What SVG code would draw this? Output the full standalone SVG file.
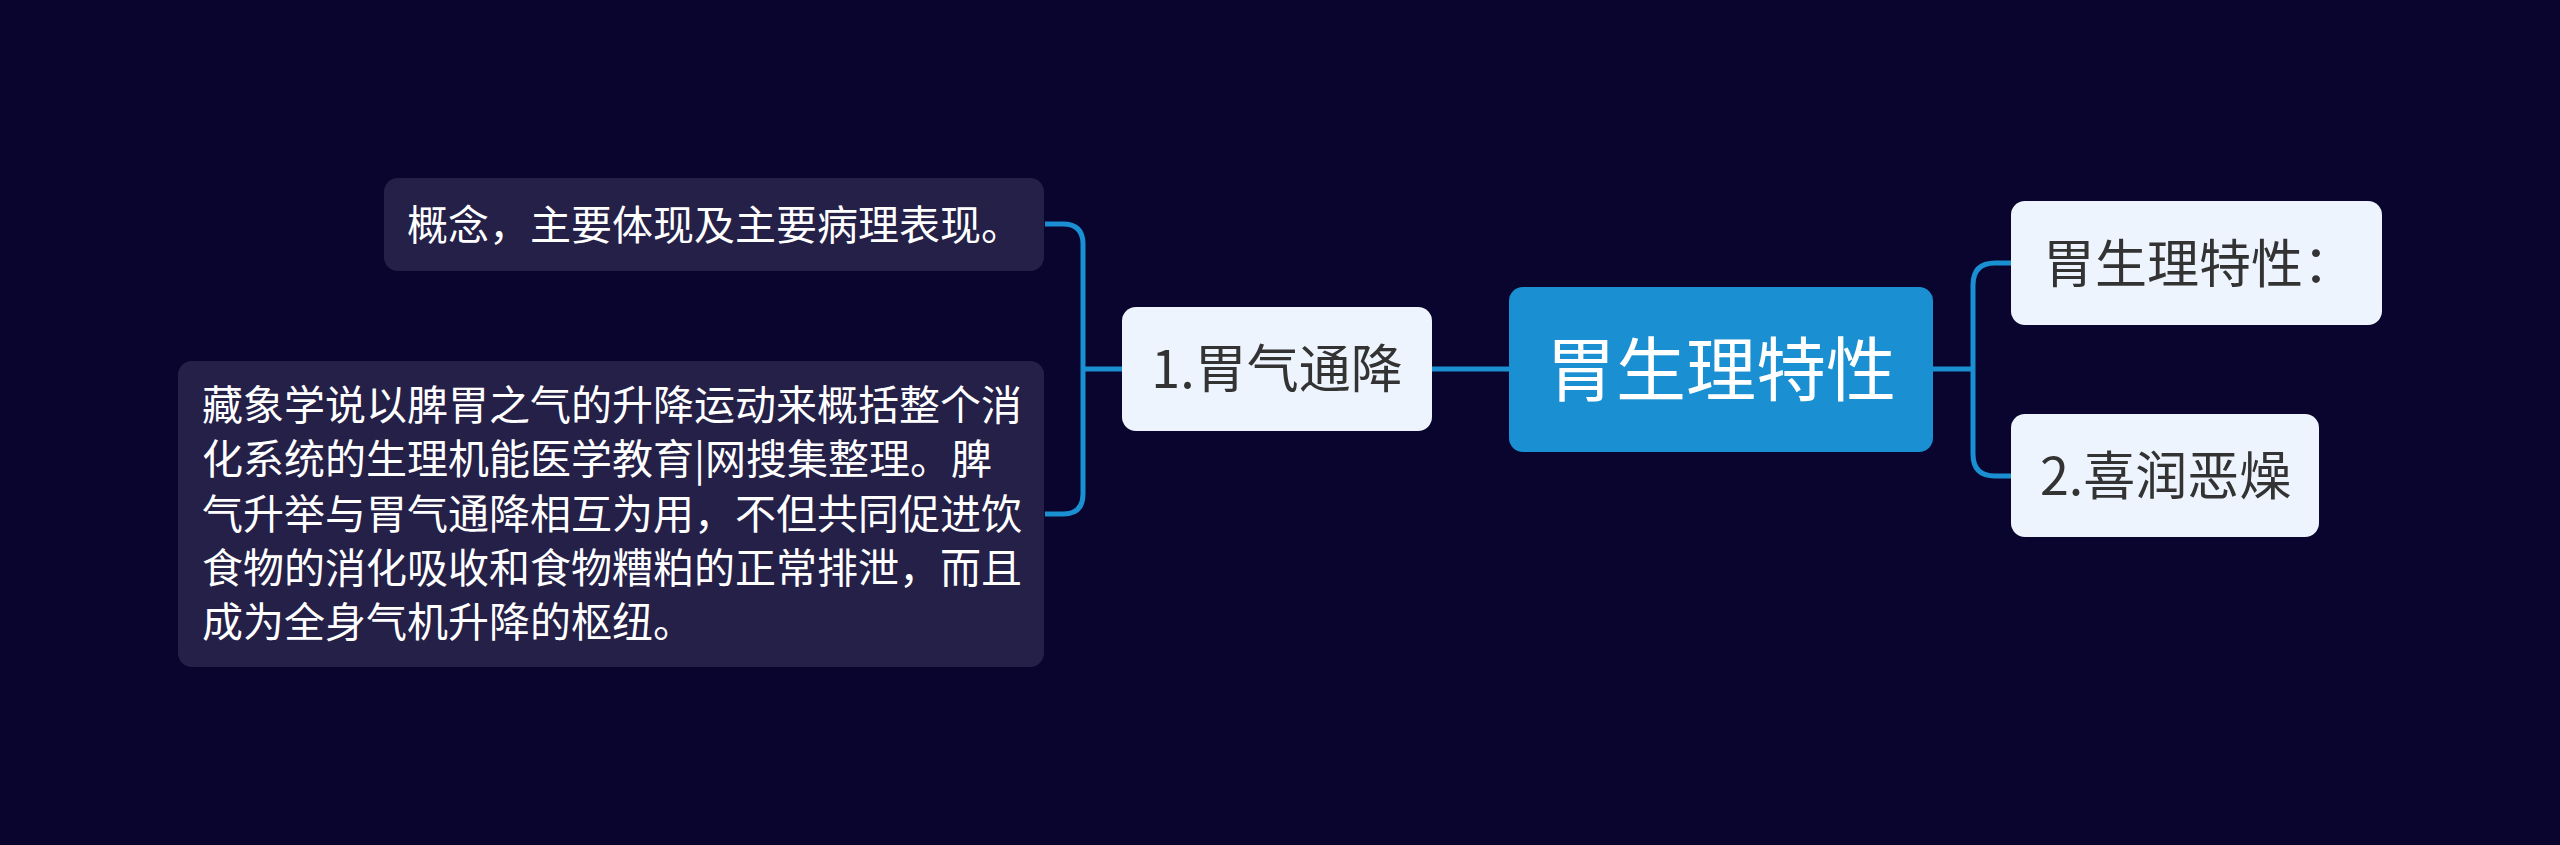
<svg xmlns="http://www.w3.org/2000/svg" width="2560" height="845" viewBox="0 0 2560 845">
<style>
.bg{fill:#0a052e}
.dark{fill:#252048}
.light{fill:#eef4fd}
.root{fill:#1a8fd1}
.c{fill:none;stroke:#1a8fd1;stroke-width:5;stroke-linecap:butt}
text{font-family:"Noto Sans CJK SC","Noto Sans",sans-serif}
.wt{fill:#ffffff;font-size:41px}
.dt{fill:#333333;font-size:52px}
.rt{fill:#ffffff;font-size:70px}
</style>
<rect class="bg" x="0" y="0" width="2560" height="845"/>
<g id="connectors">
<path class="c" d="M1509,369 H1432"/>
<path class="c" d="M1122,369 H1083"/>
<path class="c" d="M1045,224 H1063 Q1083,224 1083,244 V494 Q1083,514 1063,514 H1045"/>
<path class="c" d="M1933,369 H1973"/>
<path class="c" d="M2011,263 H1995 Q1973,263 1973,285 V454 Q1973,476 1995,476 H2011"/>
</g>
<g id="node-root">
<rect class="root" x="1509" y="287" width="424" height="165" rx="14"/>
<text class="rt" x="1721" y="396" text-anchor="middle">胃生理特性</text>
</g>
<g id="node-1">
<rect class="light" x="1122" y="307" width="310" height="124" rx="14"/>
<text class="dt" x="1277" y="388" text-anchor="middle">1.胃气通降</text>
</g>
<g id="node-1a">
<rect class="dark" x="384" y="178" width="660" height="93" rx="14"/>
<text class="wt" x="407" y="240">概念，主要体现及主要病理表现。</text>
</g>
<g id="node-1b">
<rect class="dark" x="178" y="361" width="866" height="306" rx="14"/>
<text class="wt" x="202" y="420"><tspan x="202">藏象学说以脾胃之气的升降运动来概括整个消</tspan><tspan x="202" dy="54.3">化系统的生理机能医学教育|网搜集整理。脾</tspan><tspan x="202" dy="54.3">气升举与胃气通降相互为用，不但共同促进饮</tspan><tspan x="202" dy="54.3">食物的消化吸收和食物糟粕的正常排泄，而且</tspan><tspan x="202" dy="54.3">成为全身气机升降的枢纽。</tspan></text>
</g>
<g id="node-2">
<rect class="light" x="2011" y="201" width="371" height="124" rx="14"/>
<text class="dt" x="2043" y="283">胃生理特性：</text>
</g>
<g id="node-3">
<rect class="light" x="2011" y="414" width="308" height="123" rx="14"/>
<text class="dt" x="2040" y="495">2.喜润恶燥</text>
</g>
</svg>
